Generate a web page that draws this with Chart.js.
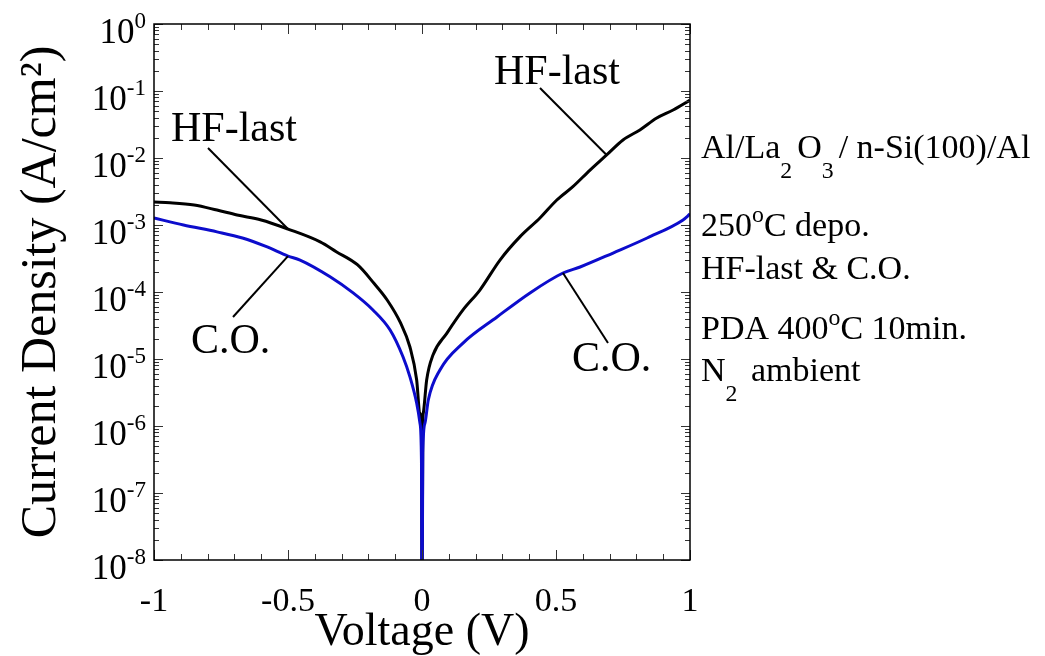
<!DOCTYPE html>
<html>
<head>
    <title>Current Density vs Voltage</title>
    <script src="https://cdn.jsdelivr.net/npm/chart.js"></script>
    <style>
        html, body { margin: 0; padding: 0; background: white; }
        .container { width: 1045px; height: 656px; position: relative; }
    </style>
</head>
<body>
    <div class="container">
        <canvas id="chart"></canvas>
    </div>

    <script>
        // HF-last sample (black)
        const hfVoltage = [-1.0, -0.94, -0.85, -0.765, -0.69, -0.6, -0.5, -0.38, -0.32, -0.24, -0.18, -0.13, -0.08, -0.045, -0.02, -0.008, -0.002, 0,
                           0.003, 0.005, 0.0175, 0.041, 0.093, 0.153, 0.216, 0.291, 0.366, 0.44, 0.503, 0.563, 0.627, 0.689, 0.75, 0.813, 0.876, 0.937, 1.0];
        const hfCurrent = [2.2e-3, 2.15e-3, 1.99e-3, 1.67e-3, 1.41e-3, 1.19e-3, 8.7e-4, 5.6e-4, 4.0e-4, 2.53e-4, 1.36e-4, 7.6e-5, 3.45e-5, 1.51e-5, 4.9e-6, 1.56e-6, 1.1e-6, 1e-9,
                           1.1e-6, 1.56e-6, 4.9e-6, 1.15e-5, 2.44e-5, 5.4e-5, 1.07e-4, 3.0e-4, 6.7e-4, 1.27e-3, 2.36e-3, 3.73e-3, 6.6e-3, 1.11e-2, 1.86e-2, 2.62e-2, 3.95e-2, 5.2e-2, 7.3e-2];

        // chemical oxide sample (blue)
        const coVoltage = [-1.0, -0.89, -0.765, -0.67, -0.58, -0.5, -0.455, -0.343, -0.257, -0.183, -0.119, -0.071, -0.045, -0.02, -0.0075, -0.002, 0,
                           0.003, 0.011, 0.0235, 0.067, 0.153, 0.28, 0.403, 0.526, 0.59, 0.713, 0.84, 0.974, 1.0];
        const coCurrent = [1.27e-3, 1.0e-3, 7.9e-4, 6.4e-4, 4.74e-4, 3.44e-4, 3.0e-4, 1.69e-4, 9.7e-5, 5.4e-5, 2.71e-5, 1.08e-5, 5.4e-6, 2.2e-6, 1.1e-6, 3e-7, 1e-9,
                           4e-7, 1.1e-6, 2.44e-6, 6.85e-6, 1.73e-5, 4.24e-5, 9.7e-5, 1.92e-4, 2.36e-4, 3.82e-4, 6.4e-4, 1.19e-3, 1.46e-3];

        const xTickLabels = [-1, -0.5, 0, 0.5, 1];
        const yTickExponents = [-8, -7, -6, -5, -4, -3, -2, -1, 0];

        const serif = "'Liberation Serif', 'Times New Roman', serif";

        // draw a line of text with sub/superscript runs
        function drawRuns(ctx, runs, x, y, size) {
            ctx.textAlign = 'left';
            ctx.textBaseline = 'alphabetic';
            for (const r of runs) {
                let s = size, dy = 0;
                if (r.sub) { s = size * 0.7; dy = 20; }
                if (r.sup) { s = size * 0.7; dy = -14; }
                ctx.font = s + 'px ' + serif;
                ctx.fillText(r.t, x, y + dy);
                x += ctx.measureText(r.t).width + (r.sub ? 5 : 0);
            }
        }

        const framePlugin = {
            id: 'frame',
            afterDraw(chart) {
                const ctx = chart.ctx;
                const { left, right, top, bottom } = chart.chartArea;
                const xs = chart.scales.x, ys = chart.scales.y;
                ctx.save();

                // ticks (inward, all four sides)
                ctx.strokeStyle = '#333';
                ctx.lineWidth = 1;
                ctx.beginPath();
                for (let i = -10; i <= 10; i++) {
                    const px = Math.round(xs.getPixelForValue(i / 10)) + 0.5;
                    const len = (i % 5 === 0) ? 10 : 6;
                    ctx.moveTo(px, bottom); ctx.lineTo(px, bottom - len);
                    ctx.moveTo(px, top); ctx.lineTo(px, top + len);
                }
                for (const e of yTickExponents) {
                    for (let m = 1; m <= 9; m++) {
                        if (e === 0 && m > 1) break;
                        const py = Math.round(ys.getPixelForValue(m * Math.pow(10, e))) + 0.5;
                        const len = m === 1 ? 9 : 5;
                        ctx.moveTo(left, py); ctx.lineTo(left + len, py);
                        ctx.moveTo(right, py); ctx.lineTo(right - len, py);
                    }
                }
                ctx.stroke();

                // frame
                ctx.strokeStyle = '#000';
                ctx.lineWidth = 1.5;
                ctx.strokeRect(left, top, right - left, bottom - top);

                ctx.fillStyle = '#000';
                // y tick labels 10^n
                for (const e of yTickExponents) {
                    const py = ys.getPixelForValue(Math.pow(10, e));
                    ctx.font = '23px ' + serif;
                    const es = String(e);
                    const ew = ctx.measureText(es).width;
                    ctx.textAlign = 'right';
                    ctx.textBaseline = 'alphabetic';
                    ctx.fillText(es, 146, py + 4);
                    ctx.font = '35px ' + serif;
                    ctx.fillText('10', 146 - ew, py + 19);
                }
                // x tick labels
                ctx.font = '34px ' + serif;
                ctx.textAlign = 'center';
                for (const v of xTickLabels) {
                    ctx.fillText(String(v), xs.getPixelForValue(v), 611);
                }

                // curve annotations
                const notes = [
                    { t: 'HF-last', x: 171, y: 141, from: [208, 148], v: hfVoltage[6], j: hfCurrent[6] },
                    { t: 'C.O.', x: 191, y: 353, from: [233, 317], v: coVoltage[5], j: coCurrent[5] },
                    { t: 'HF-last', x: 494, y: 84, from: [540, 88], v: hfVoltage[31], j: hfCurrent[31] },
                    { t: 'C.O.', x: 572, y: 371, from: [608, 343], v: coVoltage[24], j: coCurrent[24] }
                ];
                ctx.lineWidth = 2;
                ctx.strokeStyle = '#000';
                for (const n of notes) {
                    ctx.font = '42px ' + serif;
                    ctx.textAlign = 'left';
                    ctx.fillText(n.t, n.x, n.y);
                    ctx.beginPath();
                    ctx.moveTo(n.from[0], n.from[1]);
                    ctx.lineTo(xs.getPixelForValue(n.v), ys.getPixelForValue(n.j));
                    ctx.stroke();
                }

                // sample description
                drawRuns(ctx, [{ t: 'Al/La' }, { t: '2', sub: true }, { t: 'O' }, { t: '3', sub: true }, { t: '/ n-Si(100)/Al' }], 701, 158, 34);
                drawRuns(ctx, [{ t: '250' }, { t: 'o', sup: true }, { t: 'C depo.' }], 701, 236, 34);
                drawRuns(ctx, [{ t: 'HF-last & C.O.' }], 701, 279, 34);
                drawRuns(ctx, [{ t: 'PDA 400' }, { t: 'o', sup: true }, { t: 'C 10min.' }], 701, 339, 34);
                drawRuns(ctx, [{ t: 'N' }, { t: '2', sub: true }, { t: ' ambient' }], 701, 381, 34);

                ctx.restore();
            }
        };

        const ctx = document.getElementById('chart').getContext('2d');
        new Chart(ctx, {
            type: 'line',
            data: {
                datasets: [{
                    label: 'C.O.',
                    data: coVoltage.map((v, i) => ({ x: v, y: coCurrent[i] })),
                    borderColor: '#0c0ccc',
                    borderWidth: 3,
                    pointRadius: 0,
                    cubicInterpolationMode: 'monotone',
                    order: 0
                }, {
                    label: 'HF-last',
                    data: hfVoltage.map((v, i) => ({ x: v, y: hfCurrent[i] })),
                    borderColor: '#000000',
                    borderWidth: 3,
                    pointRadius: 0,
                    cubicInterpolationMode: 'monotone',
                    order: 1
                }]
            },
            options: {
                responsive: true,
                maintainAspectRatio: false,
                animation: false,
                layout: { padding: { top: 24, right: 355, left: 0, bottom: 0 } },
                plugins: { legend: { display: false }, tooltip: { enabled: false } },
                scales: {
                    x: {
                        type: 'linear', min: -1, max: 1,
                        ticks: { display: false },
                        grid: { display: false, drawTicks: false },
                        border: { display: false },
                        title: { display: true, text: 'Voltage (V)', color: '#000',
                                 font: { family: serif, size: 46, lineHeight: 1 }, padding: { top: 0, bottom: 0 } },
                        afterFit: s => { s.height = 96; }
                    },
                    y: {
                        type: 'logarithmic', min: 1e-8, max: 1,
                        ticks: { display: false },
                        grid: { display: false, drawTicks: false },
                        border: { display: false },
                        title: { display: true, text: 'Current Density (A/cm²)', color: '#000',
                                 font: { family: serif, size: 50, lineHeight: 1 }, padding: { top: 17, bottom: 0 } },
                        afterFit: s => { s.width = 154; }
                    }
                }
            },
            plugins: [framePlugin]
        });
    </script>
</body>
</html>
